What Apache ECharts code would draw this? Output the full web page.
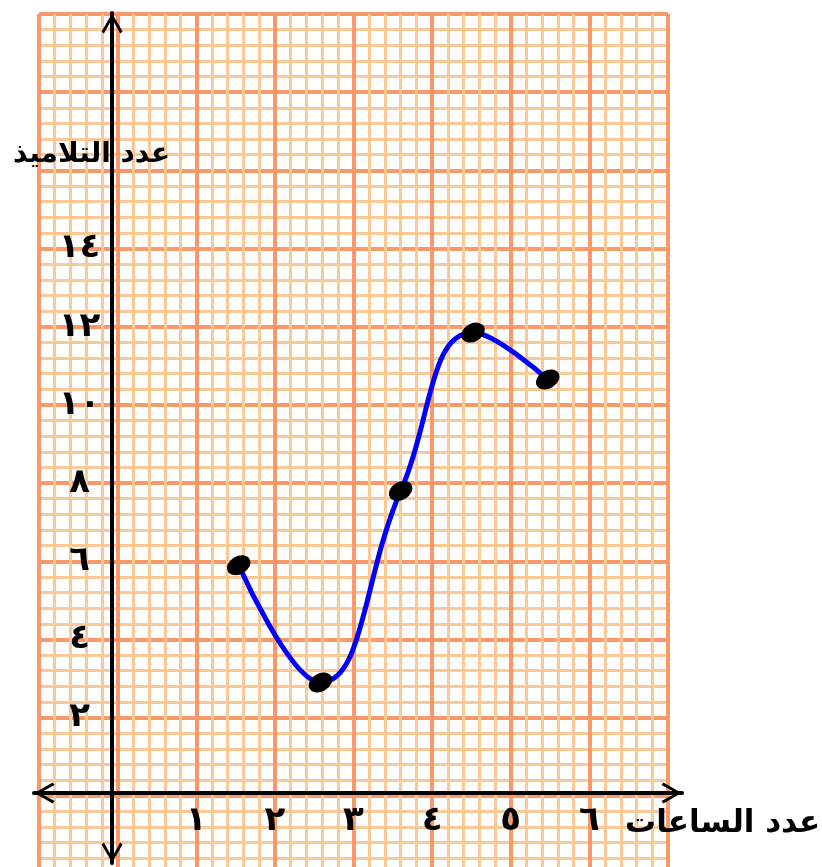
<!DOCTYPE html>
<html lang="ar">
<head>
  <meta charset="UTF-8">
  <title>عدد التلاميذ وعدد الساعات</title>
  <script src="https://cdn.jsdelivr.net/npm/echarts@6.0.0/dist/echarts.min.js"></script>
  <style>
    html, body { margin: 0; padding: 0; background: #ffffff; }
    #chart { width: 822px; height: 867px; }
  </style>
</head>
<body>
  <div id="chart"></div>
  <script>
    // قيم مقروءة من الرسم
    const hours = [1.54, 2.58, 3.60, 4.52, 5.47];
    const students = [5.9, 2.9, 7.8, 11.85, 10.65];

    // تسميات المحاور
    const xTickValues = [1, 2, 3, 4, 5, 6];
    const xTickLabels = ['١', '٢', '٣', '٤', '٥', '٦'];
    const yTickValues = [2, 4, 6, 8, 10, 12, 14];
    const yTickLabels = ['٢', '٤', '٦', '٨', '١٠', '١٢', '١٤'];
    const xName = 'عدد الساعات';
    const yName = 'عدد التلاميذ';

    const majorColor = '#F9996A';
    const minorColor = '#FBC898';
    const arabicFont = '"DejaVu Sans", sans-serif';
    const arrow = 'path://M11 0 L22 19 L19.5 21 L11 5.5 L2.5 21 L0 19 Z';

    const chart = echarts.init(document.getElementById('chart'));

    const pick = (vals, labels) => v => {
      const i = vals.indexOf(v);
      return i < 0 ? '' : labels[i];
    };

    const option = {
      backgroundColor: '#ffffff',
      animation: false,
      title: [
        {
          text: yName, left: 8, top: 136,
          textStyle: { fontFamily: arabicFont, fontSize: 28, fontWeight: 'bold', color: '#000' }
        },
        {
          text: xName, left: 620, top: 803,
          textStyle: { fontFamily: arabicFont, fontSize: 31, fontWeight: 'bold', color: '#000' }
        }
      ],
      grid: [
        // ورق الرسم البياني
        { left: 39, right: 154, top: 14, bottom: -7, outerBoundsMode: 'none', containLabel: false },
        // المحوران مع الأسهم
        { left: 34, right: 140, top: 13, bottom: 4, outerBoundsMode: 'none', containLabel: false }
      ],
      xAxis: [
        {
          gridIndex: 0, type: 'value', min: -1, max: 7, interval: 1,
          // نقل التسميات من حافة الشبكة إلى الصفر
          position: 'bottom', offset: -78.2,
          axisLine: { show: false, onZero: false },
          axisTick: { show: false },
          axisLabel: {
            formatter: pick(xTickValues, xTickLabels), margin: 8,
            fontFamily: arabicFont, fontSize: 34, fontWeight: 'bold', color: '#000'
          },
          splitLine: { show: true, lineStyle: { color: majorColor, width: 4 } },
          minorTick: { show: false, splitNumber: 5 },
          minorSplitLine: { show: true, lineStyle: { color: minorColor, width: 3 } }
        },
        {
          gridIndex: 1, type: 'value', min: -1, max: 7.3,
          axisLine: {
            show: true, onZero: true,
            lineStyle: { color: '#000', width: 4 },
            symbol: [arrow, arrow], symbolSize: [21, 21], symbolOffset: [10.5, -10.5]
          },
          axisTick: { show: false }, axisLabel: { show: false }, splitLine: { show: false }
        }
      ],
      yAxis: [
        {
          gridIndex: 0, type: 'value', min: -2, max: 20, interval: 2,
          position: 'left', offset: -78.6,
          axisLine: { show: false, onZero: false },
          axisTick: { show: false },
          axisLabel: {
            formatter: pick(yTickValues, yTickLabels), margin: 38, align: 'center',
            padding: [0, 0, 8, 0],
            fontFamily: arabicFont, fontSize: 34, fontWeight: 'bold', color: '#000'
          },
          splitLine: { show: true, lineStyle: { color: majorColor, width: 4 } },
          minorTick: { show: false, splitNumber: 5 },
          minorSplitLine: { show: true, lineStyle: { color: minorColor, width: 3 } }
        },
        {
          gridIndex: 1, type: 'value', min: -1, max: 11.143,
          axisLine: {
            show: true, onZero: true,
            lineStyle: { color: '#000', width: 4 },
            symbol: [arrow, arrow], symbolSize: [21, 21], symbolOffset: [10.5, -10.5]
          },
          axisTick: { show: false }, axisLabel: { show: false }, splitLine: { show: false }
        }
      ],
      series: [
        {
          type: 'line',
          xAxisIndex: 0, yAxisIndex: 0,
          data: hours.map((h, i) => [h, students[i]]),
          smooth: 0.45,
          lineStyle: { color: '#0000ff', width: 5 },
          symbol: 'circle',
          symbolSize: [25, 18],
          symbolRotate: 30,
          itemStyle: { color: '#000', borderWidth: 0 },
          z: 5
        }
      ]
    };

    chart.setOption(option);
  </script>
</body>
</html>
